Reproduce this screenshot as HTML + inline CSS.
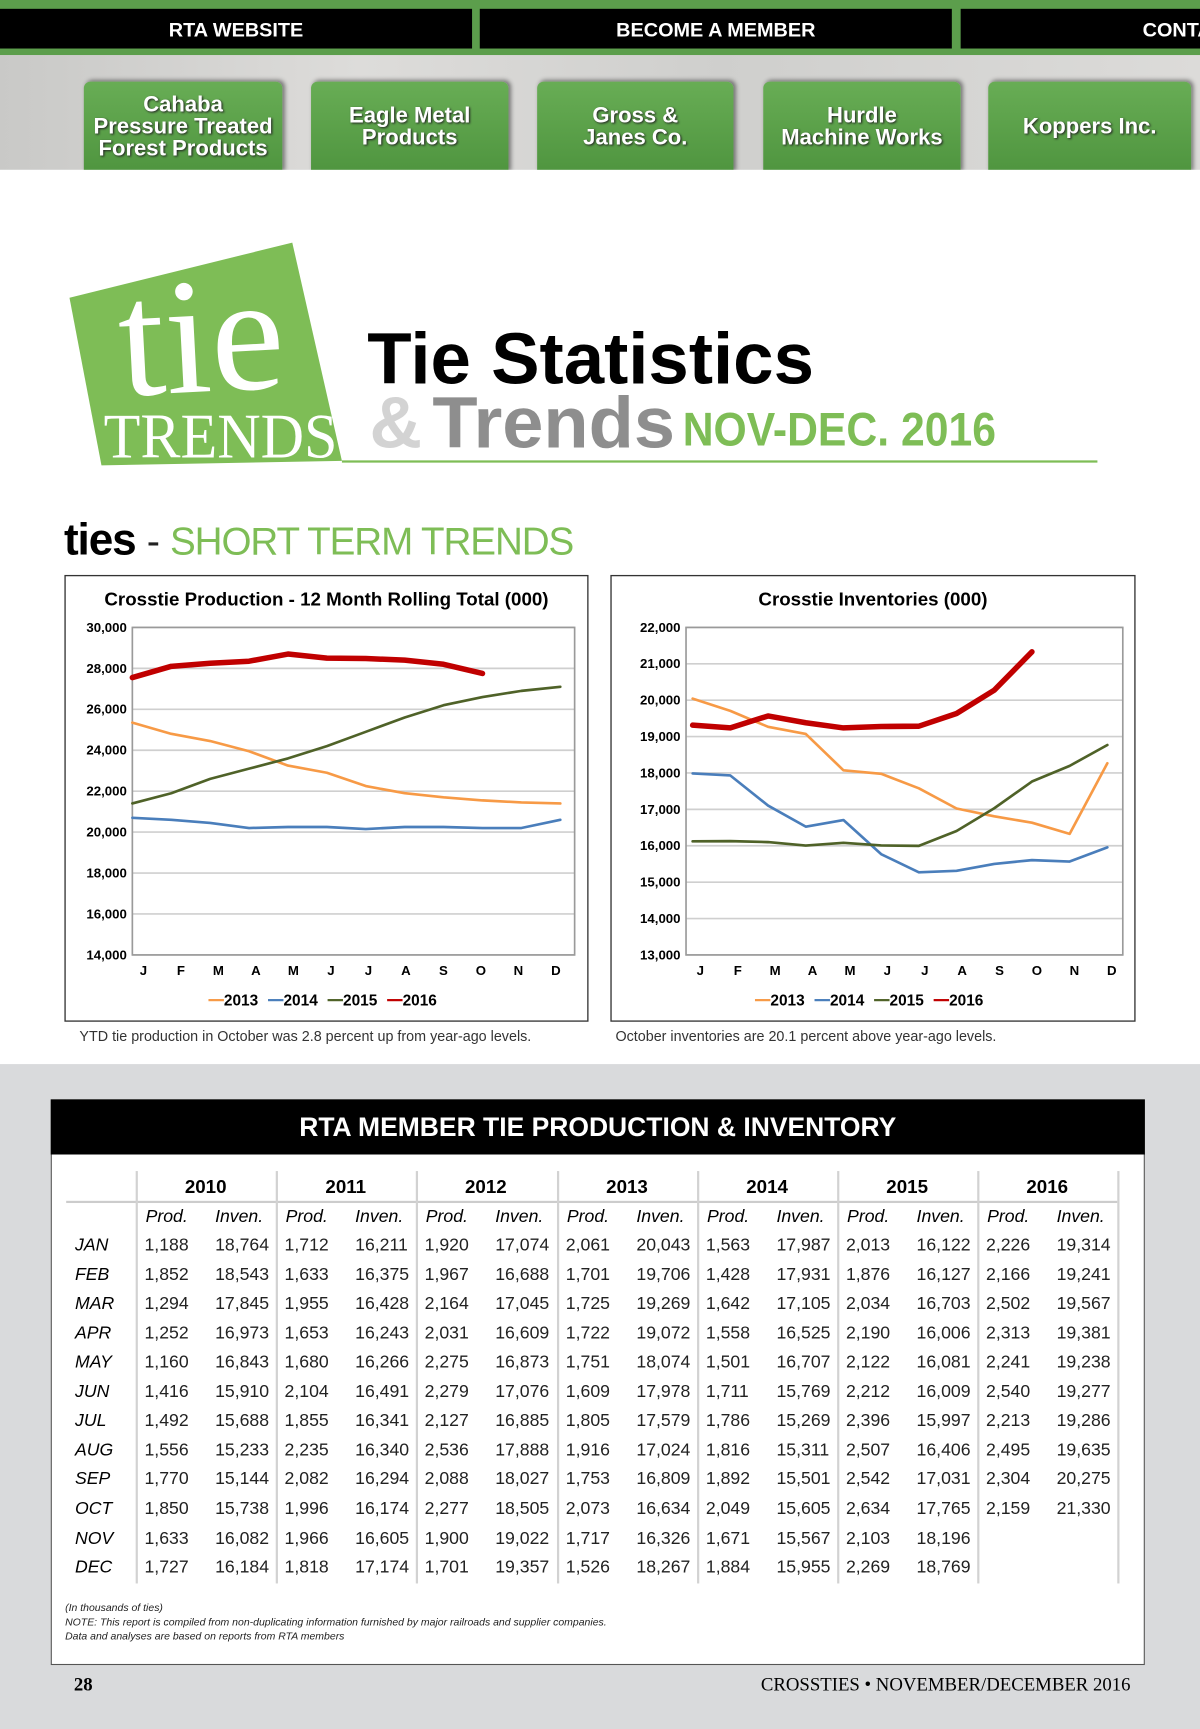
<!DOCTYPE html>
<html><head><meta charset="utf-8">
<style>
html,body{margin:0;padding:0;width:1200px;height:1729px;overflow:hidden;background:#d9dadc;}
#wrap{position:absolute;left:0;top:0;width:1088px;height:1568px;transform:scale(1.10294,1.10268);transform-origin:0 0;font-family:"Liberation Sans",sans-serif;background:#d9dadc;}
.abs{position:absolute;}
.nav{position:absolute;top:8px;height:36px;background:#000;color:#fff;font-family:"Liberation Sans Narrow","Liberation Sans",sans-serif;font-weight:bold;font-size:18px;line-height:38px;text-align:center;}
.btn{position:absolute;top:74px;height:82px;background:linear-gradient(#68ad55,#4f953f);border-radius:6px 6px 0 0;box-shadow:2px -1px 4px rgba(0,0,0,.45);color:#fff;font-weight:bold;font-size:20px;line-height:20px;text-align:center;display:flex;align-items:center;justify-content:center;text-shadow:1px 1px 2px #222;font-family:"Liberation Sans Narrow","Liberation Sans",sans-serif;}
</style></head><body>
<div id="wrap">
<div class="abs" style="left:0;top:0;width:1088px;height:50px;background:#5c9e4c"></div>
<div class="nav" style="left:0;width:428px">RTA WEBSITE</div>
<div class="nav" style="left:435px;width:428px">BECOME A MEMBER</div>
<div class="nav" style="left:871px;width:217px;text-align:left;padding-left:165px;box-sizing:border-box;overflow:hidden">CONTA</div>
<div class="abs" style="left:0;top:50px;width:1088px;height:104px;background:linear-gradient(90deg,#c9c9c7,#dddcda 30%,#cfcfcd 60%,#dcdbd9)"></div>
<div class="btn" style="left:76px;width:180px">Cahaba<br>Pressure Treated<br>Forest Products</div>
<div class="btn" style="left:282px;width:179px">Eagle Metal<br>Products</div>
<div class="btn" style="left:487px;width:178px">Gross &amp;<br>Janes Co.</div>
<div class="btn" style="left:692px;width:179px">Hurdle<br>Machine Works</div>
<div class="btn" style="left:896px;width:184px">Koppers Inc.</div>
<div class="abs" style="left:0;top:154px;width:1088px;height:811px;background:#fff"></div>

<svg class="abs" style="left:0;top:200px" width="1088" height="330">
<polygon points="63,70 265,20 310,218 92,222" fill="#7ebd56"/>
<text x="185" y="155" fill="#fff" font-family="Liberation Serif,serif" font-size="150" text-anchor="middle" transform="rotate(-3 185 155)">tie</text>
<text x="200" y="215" fill="#fff" font-family="Liberation Serif,serif" font-size="58" text-anchor="middle" textLength="212" lengthAdjust="spacingAndGlyphs">TRENDS</text>
<text x="333" y="148" font-family="Liberation Sans,sans-serif" font-weight="bold" font-size="66" fill="#000" textLength="405" lengthAdjust="spacingAndGlyphs">Tie Statistics</text>
<text x="335" y="206" font-family="Liberation Sans,sans-serif" font-weight="bold" font-size="66" fill="#d3d3d3">&amp;</text>
<text x="392" y="206" font-family="Liberation Sans,sans-serif" font-weight="bold" font-size="66" fill="#8e8e8e" textLength="220" lengthAdjust="spacingAndGlyphs">Trends</text>
<text x="619" y="204" font-family="Liberation Sans Narrow,Liberation Sans,sans-serif" font-weight="bold" font-size="43" fill="#7ebd56" textLength="284" lengthAdjust="spacingAndGlyphs">NOV-DEC. 2016</text>
<line x1="310" y1="218.5" x2="995" y2="218.5" stroke="#7ebd56" stroke-width="2"/>
</svg>
<div class="abs" style="left:58px;top:468px;font-size:40px;font-weight:bold;letter-spacing:-1px">ties <span style="font-weight:normal;font-size:36px;color:#222">-</span> <span style="font-weight:normal;font-size:35px;color:#7ebd56;font-family:'Liberation Sans Narrow','Liberation Sans',sans-serif">SHORT TERM TRENDS</span></div>

<svg id="chartL" class="abs" style="left:0;top:0" width="1088" height="960"></svg>

<div class="abs" style="left:72px;top:932px;font-size:13px;color:#333">YTD tie production in October was 2.8 percent up from year-ago levels.</div>
<div class="abs" style="left:558px;top:932px;font-size:13px;color:#333">October inventories are 20.1 percent above year-ago levels.</div>

<div class="abs" style="left:46px;top:997px;width:992px;height:513px;background:#fff;border:1px solid #555;box-sizing:border-box"></div>
<div class="abs" style="left:46px;top:997px;width:992px;height:50px;background:#000;color:#fff;font-size:24px;font-weight:bold;text-align:center;line-height:52px">RTA MEMBER TIE PRODUCTION &amp; INVENTORY</div>
<div id="tbl"></div>
<div class="abs" style="left:59px;top:1452px;font-size:9.5px;font-style:italic;line-height:13px;color:#222">(In thousands of ties)<br>NOTE: This report is compiled from non-duplicating information furnished by major railroads and supplier companies.<br>Data and analyses are based on reports from RTA members</div>
<div class="abs" style="left:67px;top:1518px;font-family:'Liberation Serif',serif;font-weight:bold;font-size:17px">28</div>
<div class="abs" style="right:63px;top:1518px;font-family:'Liberation Serif',serif;font-size:17px">CROSSTIES • NOVEMBER/DECEMBER 2016</div>
</div>

<script>
const months = ["J","F","M","A","M","J","J","A","S","O","N","D"];
const seriesNames = ["2013","2014","2015","2016"];
const prod2013 = [25350,24800,24450,23950,23250,22900,22250,21900,21700,21550,21450,21400];
const prod2014 = [20700,20600,20450,20200,20250,20250,20150,20250,20250,20200,20200,20600];
const prod2015 = [21400,21900,22600,23100,23600,24200,24900,25600,26200,26600,26900,27100];
const prod2016 = [27550,28100,28250,28350,28700,28500,28480,28400,28200,27750];
const inv2013 = [20043,19706,19269,19072,18074,17978,17579,17024,16809,16634,16326,18267];
const inv2014 = [17987,17931,17105,16525,16707,15769,15269,15311,15501,15605,15567,15955];
const inv2015 = [16122,16127,16100,16006,16081,16009,15997,16406,17031,17765,18196,18769];
const inv2016 = [19314,19241,19567,19381,19238,19277,19286,19635,20275,21330];
const prodTicks = [14000,16000,18000,20000,22000,24000,26000,28000,30000];
const invTicks = [13000,14000,15000,16000,17000,18000,19000,20000,21000,22000];
const colors = ["#f79a46","#4a7ebb","#4f6228","#c00000"];

const NS="http://www.w3.org/2000/svg";
const svg=document.getElementById('chartL');
function mk(tag,attrs,parent){const e=document.createElementNS(NS,tag);for(const k in attrs)e.setAttribute(k,attrs[k]);(parent||svg).appendChild(e);return e;}
function fmt(v){return v.toLocaleString('en-US');}
function drawChart(cfg){
  const g=mk('g',{});
  
  
  const box=mk('rect',{x:cfg.bx,y:522,width:cfg.bw,height:404,fill:'#fff',stroke:'#333','stroke-width':1.2},g);
  
  
  const t=mk('text',{x:cfg.bx+cfg.bw/2,y:549,'text-anchor':'middle','font-size':17,'font-weight':'bold','font-family':'Liberation Sans,sans-serif'},g);
  t.textContent=cfg.title;
  
  
  const y0=569,y1=866,min=cfg.ticks[0],max=cfg.ticks[cfg.ticks.length-1];
  const ys=v=>y1-(v-min)/(max-min)*(y1-y0);
  const xs=i=>cfg.px0+i*(cfg.px1-cfg.px0)/11;
  cfg.ticks.forEach(v=>{
    const l=mk('line',{x1:cfg.pl,x2:cfg.pr,y1:ys(v),y2:ys(v),stroke:'#cfcfcf','stroke-width':1.5},g);
    
    
    const tl=mk('text',{x:cfg.pl-5,y:ys(v)+4,'text-anchor':'end','font-size':12,'font-weight':'bold','font-family':'Liberation Sans,sans-serif'},g);
    tl.textContent=fmt(v);
    
    
  });
  const pf=mk('rect',{x:cfg.pl,y:y0,width:cfg.pr-cfg.pl,height:y1-y0,fill:'none',stroke:'#9a9a9a','stroke-width':1.5},g);
  
  
  months.forEach((m,i)=>{
    const tx=mk('text',{x:cfg.lx0+i*(cfg.lx1-cfg.lx0)/11,y:884,'text-anchor':'middle','font-size':12,'font-weight':'bold','font-family':'Liberation Sans,sans-serif'},g);
    tx.textContent=m;
    
    
  });
  cfg.series.forEach((s,k)=>{
    const p=mk('polyline',{points:s.map((v,i)=>xs(i)+','+ys(v)).join(' '),fill:'none',stroke:colors[k],'stroke-width':k==3?5:2.4,'stroke-linejoin':'round','stroke-linecap':'round'},g);
    
    
  });
  let lx=cfg.bx+cfg.bw/2-107;
  seriesNames.forEach((n,k)=>{
    const ll=mk('line',{x1:lx,x2:lx+14,y1:907,y2:907,stroke:colors[k],'stroke-width':2},g);
    
    
    const lt=mk('text',{x:lx+14,y:912,'font-size':14,'font-weight':'bold','font-family':'Liberation Sans,sans-serif'},g);
    lt.textContent=n;
    
    
    lx+=54;
  });
}
drawChart({name:'production-chart-group',title:'Crosstie Production - 12 Month Rolling Total (000)',bx:59,bw:474,pl:120,pr:521,px0:120,px1:508,lx0:130,lx1:504,ticks:prodTicks,series:[prod2013,prod2014,prod2015,prod2016]});
drawChart({name:'inventory-chart-group',title:'Crosstie Inventories (000)',bx:554,bw:475,pl:622,pr:1018,px0:628,px1:1004,lx0:635,lx1:1008,ticks:invTicks,series:[inv2013,inv2014,inv2015,inv2016]});

const years=["2010","2011","2012","2013","2014","2015","2016"];
const rowLabels=["JAN","FEB","MAR","APR","MAY","JUN","JUL","AUG","SEP","OCT","NOV","DEC"];
const tProd=[
["1,188","1,852","1,294","1,252","1,160","1,416","1,492","1,556","1,770","1,850","1,633","1,727"],
["1,712","1,633","1,955","1,653","1,680","2,104","1,855","2,235","2,082","1,996","1,966","1,818"],
["1,920","1,967","2,164","2,031","2,275","2,279","2,127","2,536","2,088","2,277","1,900","1,701"],
["2,061","1,701","1,725","1,722","1,751","1,609","1,805","1,916","1,753","2,073","1,717","1,526"],
["1,563","1,428","1,642","1,558","1,501","1,711","1,786","1,816","1,892","2,049","1,671","1,884"],
["2,013","1,876","2,034","2,190","2,122","2,212","2,396","2,507","2,542","2,634","2,103","2,269"],
["2,226","2,166","2,502","2,313","2,241","2,540","2,213","2,495","2,304","2,159","",""]];
const tInv=[
["18,764","18,543","17,845","16,973","16,843","15,910","15,688","15,233","15,144","15,738","16,082","16,184"],
["16,211","16,375","16,428","16,243","16,266","16,491","16,341","16,340","16,294","16,174","16,605","17,174"],
["17,074","16,688","17,045","16,609","16,873","17,076","16,885","17,888","18,027","18,505","19,022","19,357"],
["20,043","19,706","19,269","19,072","18,074","17,978","17,579","17,024","16,809","16,634","16,326","18,267"],
["17,987","17,931","17,105","16,525","16,707","15,769","15,269","15,311","15,501","15,605","15,567","15,955"],
["16,122","16,127","16,703","16,006","16,081","16,009","15,997","16,406","17,031","17,765","18,196","18,769"],
["19,314","19,241","19,567","19,381","19,238","19,277","19,286","19,635","20,275","21,330","",""]];
const tb=document.getElementById('tbl');
function div(txt,css,name){const d=document.createElement('div');d.className='abs';d.style.cssText=css;d.textContent=txt;


tb.appendChild(d);return d;}
const gx=[123,250,377,505,632,759,886];
div('','left:60px;top:1089px;width:953px;height:2px;background:#ccc','year-header-rule');
gx.forEach((x,j)=>{
  div('','left:'+x+'px;top:1062px;width:2px;height:374px;background:#d2d2d2','column-divider');
  div(years[j],'left:'+x+'px;top:1067px;width:127px;text-align:center;font-weight:bold;font-size:17px','year-header');
  div('Prod.','left:'+(x+9)+'px;top:1095px;font-style:italic;font-size:16px','prod-header');
  div('Inven.','left:'+(x+72)+'px;top:1095px;font-style:italic;font-size:16px','inven-header');
});
div('','left:1013px;top:1062px;width:2px;height:374px;background:#d2d2d2','column-divider');
rowLabels.forEach((m,i)=>{
  const y=1121+i*26.55;
  div(m,'left:68px;top:'+y+'px;font-style:italic;font-size:16px','month-label');
  gx.forEach((x,j)=>{
    div(tProd[j][i],'left:'+(x+8)+'px;top:'+y+'px;font-size:16px;color:#222','prod-value');
    div(tInv[j][i],'left:'+(x+72)+'px;top:'+y+'px;font-size:16px;color:#222','inven-value');
  });
});
</script>
</body></html>
